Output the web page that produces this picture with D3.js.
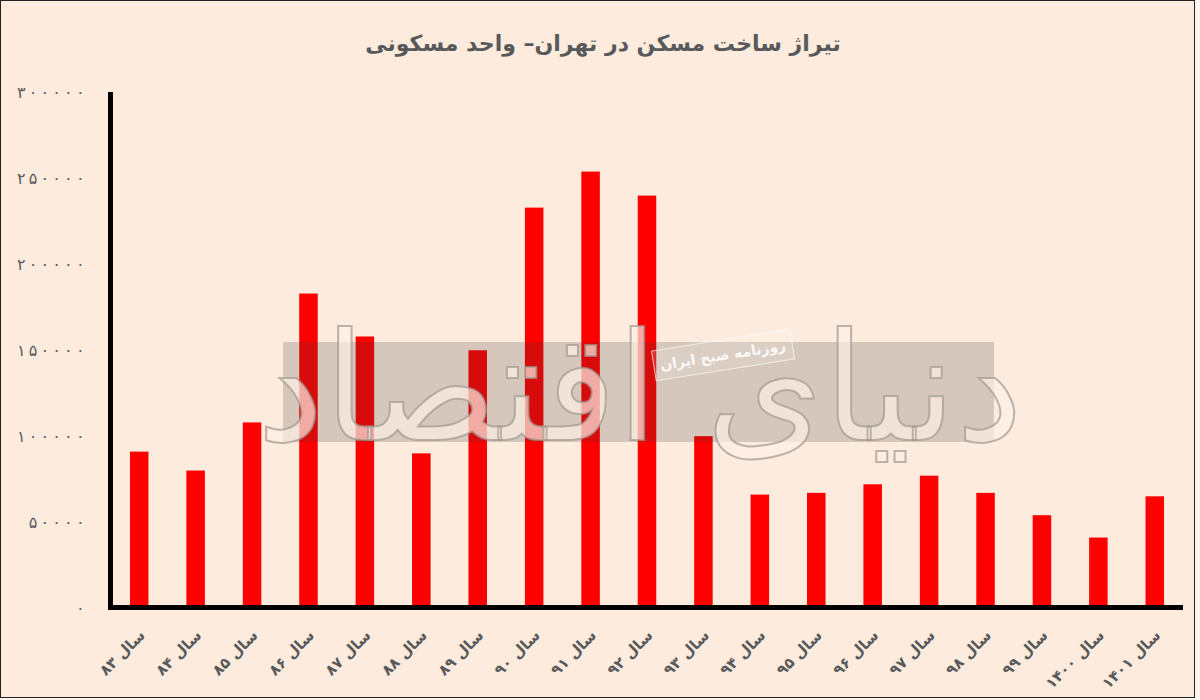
<!DOCTYPE html>
<html><head><meta charset="utf-8">
<script src="https://cdn.jsdelivr.net/npm/d3@7"></script>
<style>
html,body{margin:0;padding:0;background:#fdf7f1;}
svg{display:block;}
</style></head>
<body>
<svg id="chart" width="1200" height="700"></svg>
<script>
const title = "تیراژ ساخت مسکن در تهران– واحد مسکونی";
const categories = ["سال ۸۳","سال ۸۴","سال ۸۵","سال ۸۶","سال ۸۷","سال ۸۸","سال ۸۹","سال ۹۰","سال ۹۱","سال ۹۲","سال ۹۳","سال ۹۴","سال ۹۵","سال ۹۶","سال ۹۷","سال ۹۸","سال ۹۹","سال ۱۴۰۰","سال ۱۴۰۱"];
const values = [91000, 80000, 108000, 183000, 158000, 90000, 150000, 233000, 254000, 240000, 100000, 66000, 67000, 72000, 77000, 67000, 54000, 41000, 65000];
const yTicks = [0, 50000, 100000, 150000, 200000, 250000, 300000];
const watermarkMain = "دنیای اقتصاد";
const watermarkSub = "روزنامه صبح ایران";

const faDigits = "۰۱۲۳۴۵۶۷۸۹";
const toFa = n => String(n).replace(/[0-9]/g, d => faDigits[+d]);
const spaced = s => s.split("").join("\u2009");

const svg = d3.select("#chart");
svg.append("rect").attr("x",0).attr("y",0).attr("width",1195).attr("height",698).attr("fill","#fdebdd");
svg.append("rect").attr("x",0.5).attr("y",0.5).attr("width",1194).attr("height",697)
  .attr("fill","none").attr("stroke","#222").attr("stroke-width",1);

svg.append("text").attr("x",603).attr("y",51).attr("text-anchor","middle")
  .attr("font-family","DejaVu Sans").attr("font-weight","bold").attr("font-size",22)
  .attr("fill","#58595b").text(title);

const x = d3.scaleBand().domain(categories).range([111,1183]).paddingInner(0.672).paddingOuter(0.336);
const y = d3.scaleLinear().domain([0,300000]).range([608,92.5]);

// bars
svg.append("g").selectAll("rect").data(values).join("rect")
  .attr("x",(d,i)=>x(categories[i])).attr("width",x.bandwidth())
  .attr("y",d=>y(d)).attr("height",d=>y(0)-y(d)).attr("fill","#ff0000");

// watermark
const wm = svg.append("g");
wm.append("rect").attr("x",283).attr("y",342).attr("width",711).attr("height",100)
  .attr("fill","#373737").attr("opacity",0.2);
wm.append("text").attr("x",640).attr("y",440).attr("text-anchor","middle")
  .attr("font-family","DejaVu Sans").attr("font-size",150)
  .attr("fill","#fdf0e6").attr("fill-opacity",0.7)
  .attr("stroke","#a09890").attr("stroke-opacity",0.7).attr("stroke-width",2)
  .text(watermarkMain);
const sub = wm.append("g").attr("transform","translate(723,355) rotate(-9)");
sub.append("rect").attr("x",-70).attr("y",-15).attr("width",140).attr("height",30)
  .attr("fill","#ffffff").attr("fill-opacity",0.15).attr("stroke","#ffffff").attr("stroke-opacity",0.7);
sub.append("text").attr("x",0).attr("y",5).attr("text-anchor","middle")
  .attr("font-family","DejaVu Sans").attr("font-weight","bold").attr("font-size",14)
  .attr("fill","#ffffff").attr("fill-opacity",0.9).text(watermarkSub);

// y axis
const yAxis = svg.append("g").attr("transform","translate(110.5,0)")
  .call(d3.axisLeft(y).tickValues(yTicks).tickFormat(d => spaced(toFa(d))).tickSize(0).tickSizeOuter(0).tickPadding(26));
yAxis.select(".domain").remove();
yAxis.selectAll("text").attr("font-family","DejaVu Sans").attr("font-size",16)
  .attr("fill","#58595b");

// x axis
const xAxis = svg.append("g").attr("transform","translate(0,607.5)")
  .call(d3.axisBottom(x).tickSize(0).tickSizeOuter(0).tickPadding(0));
xAxis.select(".domain").remove();
xAxis.selectAll(".tick text")
  .attr("font-family","DejaVu Sans").attr("font-weight","bold").attr("font-size",15)
  .attr("fill","#58595b").attr("text-anchor","end").attr("dy","0.35em")
  .attr("transform","translate(3,25) rotate(-45)").attr("y",0);

// axis lines
svg.append("line").attr("x1",110.5).attr("x2",110.5).attr("y1",92).attr("y2",610)
  .attr("stroke","#000").attr("stroke-width",5);
svg.append("line").attr("x1",108).attr("x2",1183).attr("y1",607.5).attr("y2",607.5)
  .attr("stroke","#000").attr("stroke-width",5);
</script>
</body></html>
